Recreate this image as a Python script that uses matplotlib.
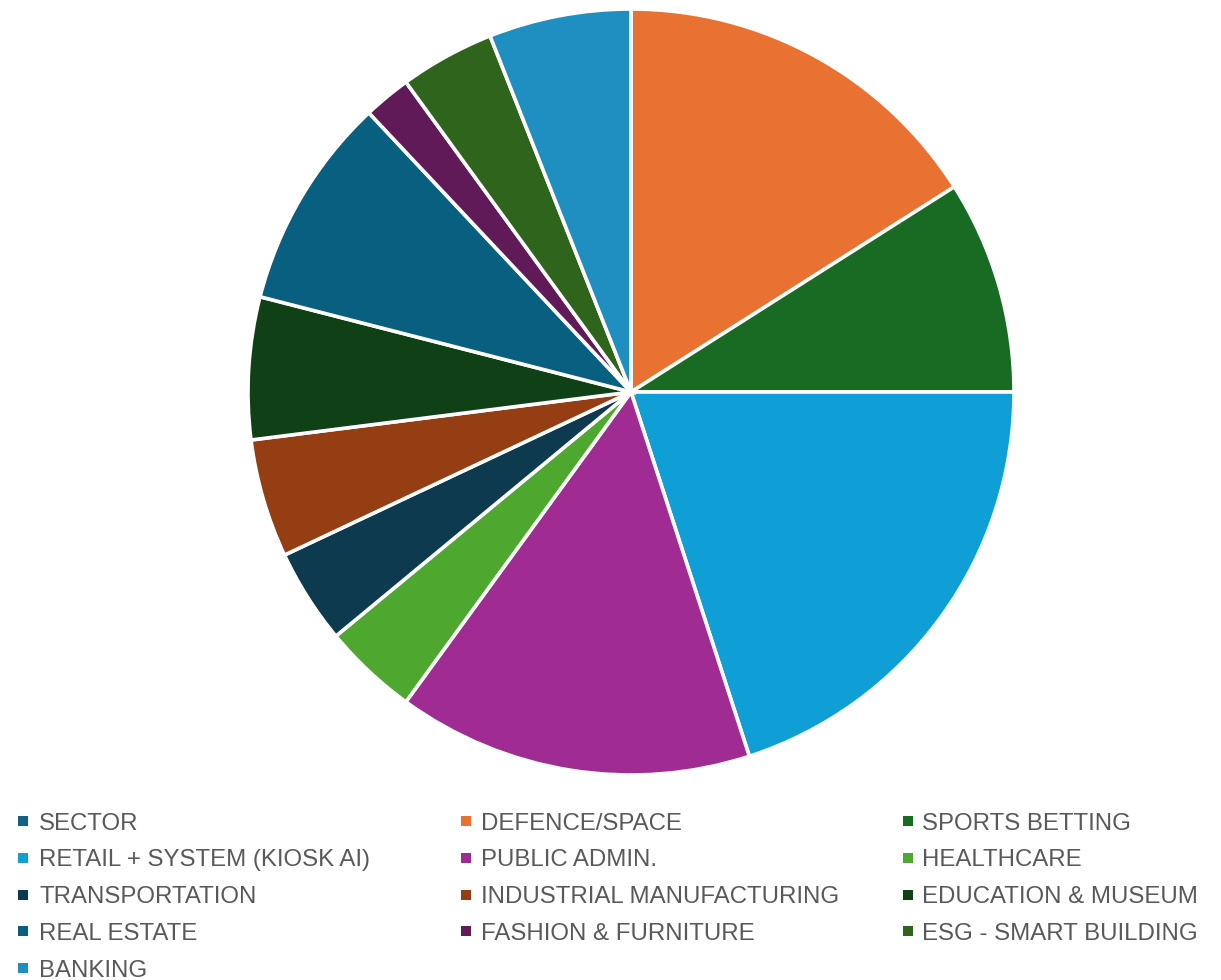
import matplotlib
matplotlib.use("Agg")
import matplotlib.pyplot as plt
from matplotlib.patches import Rectangle

labels = ["SECTOR", "DEFENCE/SPACE", "SPORTS BETTING",
          "RETAIL + SYSTEM (KIOSK AI)", "PUBLIC ADMIN.", "HEALTHCARE",
          "TRANSPORTATION", "INDUSTRIAL MANUFACTURING", "EDUCATION & MUSEUM",
          "REAL ESTATE", "FASHION & FURNITURE", "ESG - SMART BUILDING",
          "BANKING"]
values = [0, 16, 9, 20, 15, 4, 4, 5, 6, 9, 2, 4, 6]
colors = ["#156082", "#E97132", "#196B24", "#0F9ED5", "#A02B93", "#4EA72E",
          "#0D3A4E", "#953D13", "#0F4016", "#095F80", "#601A58", "#2F641C",
          "#1F8EC1"]

W, H = 1221, 980
fig = plt.figure(figsize=(W / 100, H / 100), dpi=100)

cx, cy, r = 631, 392, 383
ax = fig.add_axes([(cx - r) / W, (H - cy - r) / H, 2 * r / W, 2 * r / H])
pie_vals = [v for v in values if v > 0]
pie_cols = [c for v, c in zip(values, colors) if v > 0]
ax.pie(pie_vals, colors=pie_cols, startangle=90, counterclock=False,
       radius=1, wedgeprops=dict(edgecolor="white", linewidth=2.6))
ax.set_xlim(-1, 1)
ax.set_ylim(-1, 1)
ax.set_aspect("equal")
ax.axis("off")

# legend: 3 columns, row-major
col_marker_x = [23, 465.5, 907.5]
col_text_x = [39, 481, 922]
row_y0, row_dy = 821, 36.8
sq = 10
for i, (lab, col) in enumerate(zip(labels, colors)):
    row, c = divmod(i, 3)
    y = row_y0 + row * row_dy
    mx = col_marker_x[c]
    fig.add_artist(Rectangle(((mx - sq / 2) / W, (H - y - sq / 2) / H), sq / W, sq / H,
                             transform=fig.transFigure, facecolor=col, edgecolor="none"))
    fig.text(col_text_x[c] / W, (H - y) / H, lab, ha="left", va="center_baseline",
             fontsize=17.3, color="#595959", family="Liberation Sans")

fig.savefig("out.png", dpi=100, facecolor="white")
